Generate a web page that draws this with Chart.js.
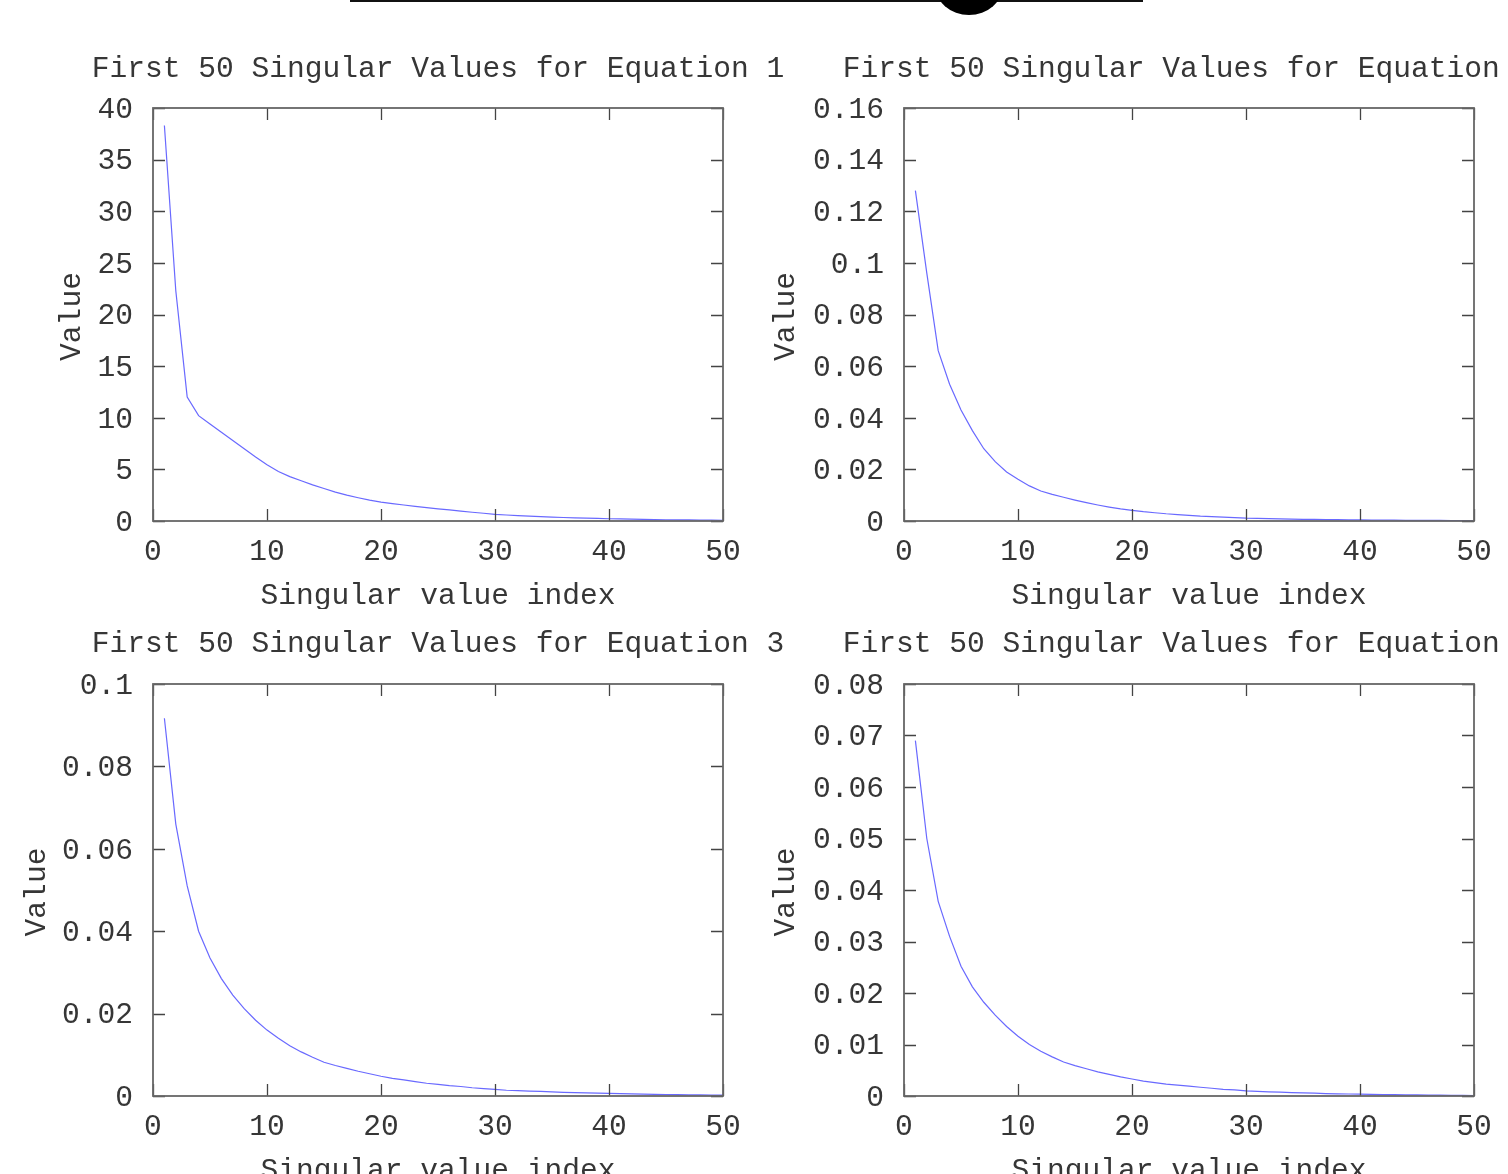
<!DOCTYPE html>
<html>
<head>
<meta charset="utf-8">
<script src="https://cdn.jsdelivr.net/npm/chart.js@4/dist/chart.umd.min.js"></script>
<style>
  html, body { margin: 0; padding: 0; background: #fff; width: 1508px; height: 1174px; overflow: hidden; position: relative; }
  canvas { position: absolute; }
  #topLine { position: absolute; left: 350px; top: 0; width: 793px; height: 2px; background: #111; }
  #topBlob { position: absolute; left: 935px; top: -45px; width: 68px; height: 60px; border-radius: 50%; background: #000; }
</style>
</head>
<body>
<div id="topLine"></div>
<div id="topBlob"></div>
<canvas id="c1" width="876" height="609" style="left:0px;top:0px"></canvas>
<canvas id="c2" width="876" height="609" style="left:751px;top:0px"></canvas>
<canvas id="c3" width="876" height="584" style="left:0px;top:600px"></canvas>
<canvas id="c4" width="876" height="584" style="left:751px;top:600px"></canvas>
<script>
// ---------- data ----------
const indices = [1,2,3,4,5,6,7,8,9,10,11,12,13,14,15,16,17,18,19,20,21,22,23,24,25,26,27,28,29,30,31,32,33,34,35,36,37,38,39,40,41,42,43,44,45,46,47,48,49,50];

const eq1 = [38.3,22.3,12.0,10.2,9.4,8.6,7.8,7.0,6.2,5.45,4.8,4.3,3.9,3.5,3.15,2.8,2.5,2.25,2.02,1.82,
             1.68,1.55,1.42,1.3,1.18,1.07,0.96,0.85,0.75,0.65,0.58,0.52,0.47,0.42,0.38,0.34,0.31,0.28,0.25,0.22,
             0.2,0.18,0.16,0.14,0.12,0.11,0.1,0.09,0.08,0.07];

const eq2 = [0.128,0.096,0.066,0.053,0.043,0.035,0.028,0.023,0.019,0.0162,0.0136,0.0116,0.0103,0.0092,0.0081,0.0071,0.0062,0.0054,0.0047,0.0041,
             0.0036,0.0032,0.0028,0.0025,0.0022,0.0019,0.0017,0.0015,0.0013,0.0011,0.001,0.0009,0.0008,0.0007,0.00065,0.0006,0.00055,0.0005,0.00045,0.0004,
             0.00037,0.00034,0.00031,0.00028,0.00026,0.00024,0.00022,0.0002,0.00018,0.00016];

const eq3 = [0.0917,0.066,0.051,0.040,0.0335,0.0285,0.0245,0.0212,0.0184,0.016,0.014,0.0122,0.0107,0.0094,0.0082,0.0074,0.0067,0.006,0.0054,0.0048,
             0.0043,0.0039,0.0035,0.0031,0.0028,0.0025,0.0023,0.002,0.0018,0.0016,0.0014,0.0013,0.0012,0.0011,0.001,0.0009,0.00082,0.00075,0.00068,0.00062,
             0.00056,0.0005,0.00045,0.0004,0.00036,0.00032,0.00028,0.00025,0.00022,0.0002];

const eq4 = [0.069,0.050,0.0378,0.031,0.0252,0.0212,0.0182,0.0157,0.0135,0.0116,0.0100,0.0087,0.0076,0.0066,0.0059,0.0053,0.0047,0.0042,0.0037,0.0033,
             0.0029,0.0026,0.0023,0.0021,0.0019,0.0017,0.0015,0.0013,0.0012,0.001,0.0009,0.00082,0.00074,0.00066,0.0006,0.00054,0.00048,0.00043,0.00039,0.00035,
             0.00031,0.00028,0.00025,0.00022,0.0002,0.00018,0.00016,0.00014,0.00012,0.0001];

const xTicks  = [0,10,20,30,40,50];
const yTicks1 = [0,5,10,15,20,25,30,35,40];
const yTicks2 = [0,0.02,0.04,0.06,0.08,0.1,0.12,0.14,0.16];
const yTicks3 = [0,0.02,0.04,0.06,0.08,0.1];
const yTicks4 = [0,0.01,0.02,0.03,0.04,0.05,0.06,0.07,0.08];

const titles = ['First 50 Singular Values for Equation 1','First 50 Singular Values for Equation 2',
                'First 50 Singular Values for Equation 3','First 50 Singular Values for Equation 4'];
const xTitle = 'Singular value index';
const yTitle = 'Value';

// ---------- style ----------
const FONT = "'Courier New', 'Nimbus Mono PS', 'Nimbus Mono L', 'FreeMono', 'Liberation Mono', monospace";
const FS = 29.6;
const TXT = '#363636';
const LINE = 'rgb(105,105,255)';
const TEXT_DY = 2;

// shift all text (scales + title) slightly down to match glyph placement
const textShift = {
  id: 'textShift',
  beforeDraw(chart) { chart.ctx.save(); chart.ctx.translate(0, TEXT_DY); },
  beforeDatasetsDraw(chart) { chart.ctx.restore(); }
};

const boxTicks = {
  id: 'boxTicks',
  afterDatasetsDraw(chart) {
    const {ctx, chartArea: a, scales} = chart;
    const x = scales.x, y = scales.y;
    const tl = 12;
    ctx.save();
    ctx.strokeStyle = '#444';
    ctx.lineWidth = 1.3;
    ctx.beginPath();
    x.ticks.forEach(t => {
      const px = Math.round(x.getPixelForValue(t.value)) + 0.5;
      ctx.moveTo(px, a.bottom); ctx.lineTo(px, a.bottom - tl);
      ctx.moveTo(px, a.top); ctx.lineTo(px, a.top + tl);
    });
    y.ticks.forEach(t => {
      const py = Math.round(y.getPixelForValue(t.value)) + 0.5;
      ctx.moveTo(a.left, py); ctx.lineTo(a.left + tl, py);
      ctx.moveTo(a.right, py); ctx.lineTo(a.right - tl, py);
    });
    ctx.stroke();
    ctx.strokeStyle = '#666';
    ctx.lineWidth = 1.8;
    ctx.strokeRect(a.left, a.top, a.right - a.left, a.bottom - a.top);
    ctx.restore();
  }
};

function makeChart(id, data, yTicks, yMax, title, titlePad, yTitlePad) {
  new Chart(document.getElementById(id), {
    type: 'line',
    data: {
      datasets: [{
        data: indices.map((v, i) => ({x: v, y: data[i]})),
        borderColor: LINE,
        borderWidth: 1.2,
        pointRadius: 0,
        tension: 0,
        fill: false
      }]
    },
    options: {
      responsive: false,
      animation: false,
      devicePixelRatio: 1,
      layout: { padding: 0 },
      plugins: {
        legend: { display: false },
        tooltip: { enabled: false },
        title: {
          display: true,
          text: title,
          color: TXT,
          font: { family: FONT, size: FS, weight: 'normal', lineHeight: 1 },
          padding: titlePad,
          fullSize: true
        }
      },
      scales: {
        x: {
          type: 'linear',
          position: 'bottom',
          min: 0, max: 50,
          afterBuildTicks: s => { s.ticks = xTicks.map(v => ({value: v})); },
          afterFit: s => { s.height = 88; },
          grid: { display: false, drawTicks: false },
          border: { display: false },
          ticks: {
            color: TXT, font: { family: FONT, size: FS }, padding: 11,
            autoSkip: false, maxRotation: 0, minRotation: 0,
            callback: v => String(v)
          },
          title: {
            display: true, text: xTitle, color: TXT,
            font: { family: FONT, size: FS, lineHeight: 1 }, padding: 0
          }
        },
        y: {
          type: 'linear',
          position: 'left',
          min: 0, max: yMax,
          afterBuildTicks: s => { s.ticks = yTicks.map(v => ({value: v})); },
          afterFit: s => { s.width = 153; },
          grid: { display: false, drawTicks: false },
          border: { display: false },
          ticks: {
            color: TXT, font: { family: FONT, size: FS }, padding: 20,
            autoSkip: false,
            callback: v => String(v)
          },
          title: {
            display: true, text: yTitle, color: TXT,
            font: { family: FONT, size: FS, lineHeight: 1 }, padding: { top: yTitlePad, bottom: 0 }
          }
        },
        yRight: {
          type: 'linear',
          position: 'right',
          min: 0, max: 1,
          afterFit: s => { s.width = 153; },
          grid: { display: false, drawTicks: false },
          border: { display: false },
          ticks: { display: false }
        }
      }
    },
    plugins: [textShift, boxTicks]
  });
}

makeChart('c1', eq1, yTicks1, 40,   titles[0], { top: 52.2, bottom: 26.2 }, 57.2);
makeChart('c2', eq2, yTicks2, 0.16, titles[1], { top: 52.2, bottom: 26.2 }, 20.2);
makeChart('c3', eq3, yTicks3, 0.1,  titles[2], { top: 27.2, bottom: 27.2 }, 22.2);
makeChart('c4', eq4, yTicks4, 0.08, titles[3], { top: 27.2, bottom: 27.2 }, 20.2);
</script>
</body>
</html>
